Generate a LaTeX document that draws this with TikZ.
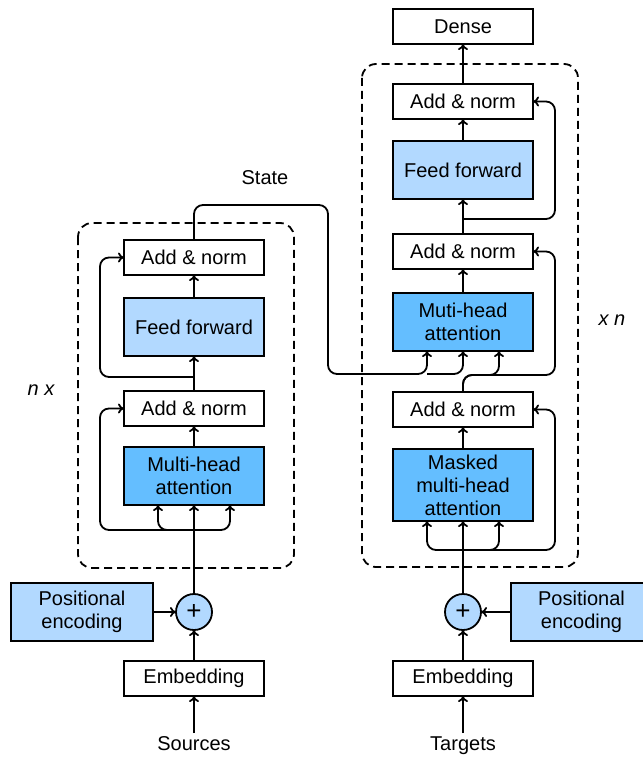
\documentclass[tikz,border=0pt]{standalone}
\usepackage{fontspec}
\setmainfont{Liberation Sans}
\usetikzlibrary{positioning,arrows.meta}
\usepackage{xcolor}
\definecolor{ffblue}{RGB}{178,217,255}
\definecolor{attblue}{RGB}{100,190,255}
\tikzset{
  blk/.style={draw,line width=1.8pt,outer sep=0pt,minimum width=140pt,minimum height=35pt,align=center,inner sep=2pt},
  ffblk/.style={blk,fill=ffblue,minimum height=58pt},
  attblk/.style={blk,fill=attblue,minimum height=58pt},
  addc/.style={draw,circle,line width=1.8pt,outer sep=0pt,fill=ffblue,minimum size=36pt,inner sep=0pt,font=\fontsize{26}{26}\selectfont},
  link/.style={->,line width=1.8pt,rounded corners=9pt},
  frame/.style={line width=1.8pt,dash pattern=on 8pt off 5pt,rounded corners=14pt},
}

\begin{document}
\begin{tikzpicture}[x=1pt,y=1pt,>={Computer Modern Rightarrow[length=6pt,width=10pt]},font=\fontsize{20}{23}\selectfont]
\useasboundingbox (0,0) rectangle (642,-757);
\node[addc] (eplus) at (194,-612) {+};
\node[ffblk,minimum width=142pt] (epos) [left=23pt of eplus] {Positional\\encoding};
\node[blk] (eemb) [below=31pt of eplus] {Embedding};
\node (esrc) [below=37pt of eemb] {Sources};
\node[attblk] (emha) [above=89pt of eplus] {Multi-head\\attention};
\node[blk] (ean1) [above=21pt of emha] {Add \& norm};
\node[ffblk] (eff) [above=35pt of ean1] {Feed forward};
\node[blk] (ean2) [above=23pt of eff] {Add \& norm};

\node[addc] (dplus) at (463,-612) {+};
\node[ffblk,minimum width=141pt] (dpos) [right=30pt of dplus] {Positional\\encoding};
\node[blk] (demb) [below=31pt of dplus] {Embedding};
\node (dtgt) [below=37pt of demb] {Targets};
\node[attblk,minimum height=72pt] (dmmha) [above=73pt of dplus] {Masked\\multi-head\\attention};
\node[blk] (dan1) [above=22pt of dmmha] {Add \& norm};
\node[attblk] (dmha) [above=41pt of dan1] {Muti-head\\attention};
\node[blk] (dan2) [above=24pt of dmha] {Add \& norm};
\node[ffblk] (dff) [above=35pt of dan2] {Feed forward};
\node[blk] (dan3) [above=22pt of dff] {Add \& norm};
\node[blk] (dense) [above=40pt of dan3] {Dense};

\node (state) at (265,-178) {State};
\node[font=\fontsize{20}{23}\selectfont\itshape] (enx) at (41,-390) {n x};
\node[font=\fontsize{20}{23}\selectfont\itshape] (dxn) at (612,-320) {x n};

\draw[frame] (78,-223) rectangle (294,-568);
\draw[frame] (362,-64) rectangle (578,-567);

\coordinate (ebr1) at ([yshift=-25pt]emha.south);
\coordinate (ebr2) at ([yshift=14pt]ean1.north);
\coordinate (stop) at ([yshift=35pt]ean2.north);
\coordinate (sbot) at (328,-374);
\coordinate (dbr1) at ([yshift=-29pt]dmmha.south);
\coordinate (dbr2) at ([yshift=17pt]dan1.north);
\coordinate (dbr3) at ([yshift=15pt]dan2.north);

\draw[link] (esrc) -- (eemb);
\draw[link] (eemb) -- (eplus);
\draw[link] (epos) -- (eplus);
\draw[link] (eplus) -- (emha);
\draw[link] (ebr1) -| ([xshift=-36pt]emha.south);
\draw[link] (ebr1) -| ([xshift=36pt]emha.south);
\draw[link] (ebr1) -| ([xshift=-24pt]ean1.west) -- (ean1.west);
\draw[link] (emha) -- (ean1);
\draw[link] (ean1) -- (eff);
\draw[link] (ebr2) -| ([xshift=-24pt]ean2.west) -- (ean2.west);
\draw[link] (eff) -- (ean2);
\draw[link] (ean2.north) -- (stop) -| (sbot) -| ([xshift=-36pt]dmha.south);
\draw[link] ([xshift=-36pt]dmha.south |- sbot) -| (dmha.south);

\draw[link] (dtgt) -- (demb);
\draw[link] (demb) -- (dplus);
\draw[link] (dpos) -- (dplus);
\draw[link] (dplus) -- (dmmha);
\draw[link] (dbr1) -| ([xshift=-36pt]dmmha.south);
\draw[link] (dbr1) -| ([xshift=36pt]dmmha.south);
\draw[link] (dbr1) -| ([xshift=22pt]dan1.east) -- (dan1.east);
\draw[link] (dmmha) -- (dan1);
\draw[link] (dan1.north) -- (dbr2) -| ([xshift=36pt]dmha.south);
\draw[link] (dan1.north) -- (dbr2) -| ([xshift=22pt]dan2.east) -- (dan2.east);
\draw[link] (dmha) -- (dan2);
\draw[link] (dan2) -- (dff);
\draw[link] (dbr3) -| ([xshift=22pt]dan3.east) -- (dan3.east);
\draw[link] (dff) -- (dan3);
\draw[link] (dan3) -- (dense);
\end{tikzpicture}
\end{document}
